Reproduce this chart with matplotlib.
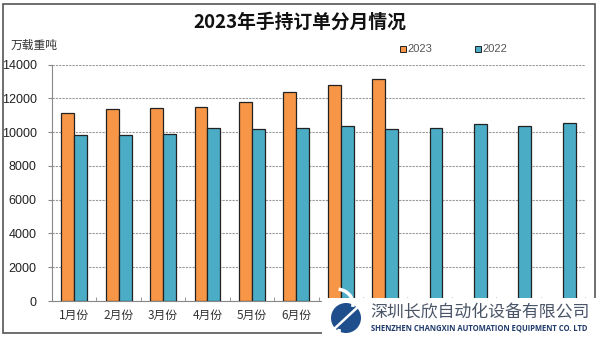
import matplotlib
matplotlib.use('Agg')
import matplotlib.pyplot as plt
from matplotlib.patches import Rectangle, Circle, Arc
import numpy as np

plt.rcParams['font.family'] = ['Liberation Sans', 'Noto Sans CJK SC', 'DejaVu Sans']

months = ['1月份', '2月份', '3月份', '4月份', '5月份', '6月份',
          '7月份', '8月份', '9月份', '10月份', '11月份', '12月份']
orders_2023 = [11100, 11350, 11450, 11500, 11800, 12370, 12780, 13130]
orders_2022 = [9820, 9800, 9900, 10230, 10200, 10260, 10350, 10200,
               10260, 10450, 10340, 10550]

ORANGE = '#F79646'
BLUE = '#4BACC6'

fig = plt.figure(figsize=(6, 3.39), dpi=100)

# overlay in pixel units for frame, title, legend and logo
ov = fig.add_axes([0, 0, 1, 1], zorder=0)
ov.set_xlim(0, 600)
ov.set_ylim(339, 0)
ov.axis('off')
ov.add_patch(Rectangle((3, 4), 592, 329, fill=False, edgecolor='#555555', lw=1.2))

ax = fig.add_axes([52 / 600, 38 / 339, 533 / 600, 236.5 / 339], zorder=1)
ax.patch.set_alpha(0)
w = 0.29
x = np.arange(len(months))
ax.bar(x[:len(orders_2023)] - w / 2, orders_2023, w, color=ORANGE,
       edgecolor='#222222', linewidth=0.9, zorder=3)
ax.bar(x - w / 2 + w, orders_2022, w, color=BLUE,
       edgecolor='#222222', linewidth=0.9, zorder=3)

ax.set_xlim(-0.5, len(months) - 0.5)
ax.set_ylim(0, 14000)
ax.set_yticks(range(0, 14001, 2000))
ax.yaxis.grid(True, color='#999999', linestyle=(0, (2, 1)), linewidth=0.8, zorder=0)
for s in ['top', 'right']:
    ax.spines[s].set_visible(False)
ax.spines['left'].set_color('#888888')
ax.spines['bottom'].set_color('#888888')
ax.tick_params(axis='y', length=3, color='#888888', labelsize=9, pad=8, labelcolor='#222222')
# labels from July on sit under the company banner
ax.set_xticks(x)
ax.set_xticklabels([m if i < 6 else '' for i, m in enumerate(months)],
                   fontsize=8.5, color='#333333', family=['Noto Sans CJK SC'])
ax.set_xticks(np.arange(-0.5, len(months), 1), minor=True)
ax.tick_params(axis='x', which='major', length=0, pad=6)
ax.tick_params(axis='x', which='minor', length=3, direction='in', color='#888888')

ov.text(300, 22, '2023年手持订单分月情况', ha='center', va='center', fontsize=13.5,
        fontweight='bold', family=['Noto Sans CJK SC'], color='#111111')
ov.text(11, 45, '万载重吨', ha='left', va='center', fontsize=8.5,
        family=['Noto Sans CJK SC'], color='#333333')

# legend
for lx, col, lab in [(403, ORANGE, '2023'), (478, BLUE, '2022')]:
    ov.add_patch(Rectangle((lx - 3, 46), 6, 6, facecolor=col, edgecolor='#222222', lw=0.7))
    ov.text(lx + 4, 49.5, lab, ha='left', va='center', fontsize=8, color='#555555')

# company watermark
logo = fig.add_axes([0, 0, 1, 1], zorder=5)
logo.set_xlim(0, 600)
logo.set_ylim(339, 0)
logo.axis('off')
logo.add_patch(Rectangle((322, 298), 278, 41, facecolor='white', edgecolor='none'))
logo.add_patch(Circle((346, 318), 15, facecolor='#1F4E8C', edgecolor='none'))
logo.add_patch(Arc((336, 304), 34, 30, theta1=-80, theta2=10, color='white', lw=2.5))
logo.add_patch(Arc((356, 332), 34, 30, theta1=100, theta2=190, color='white', lw=2.5))
logo.plot([333, 360], [330, 305], color='white', lw=1.8)
logo.text(370, 312, '深圳长欣自动化设备有限公司', ha='left', va='center', fontsize=12.2,
          family=['Noto Sans CJK SC'], color='#4A5568')
logo.text(371, 328, 'SHENZHEN CHANGXIN AUTOMATION EQUIPMENT CO. LTD', ha='left',
          va='center', fontsize=5.5, color='#1F3A6B', family=['Open Sans'],
          fontweight='bold')

fig.savefig('out.png', dpi=100)
